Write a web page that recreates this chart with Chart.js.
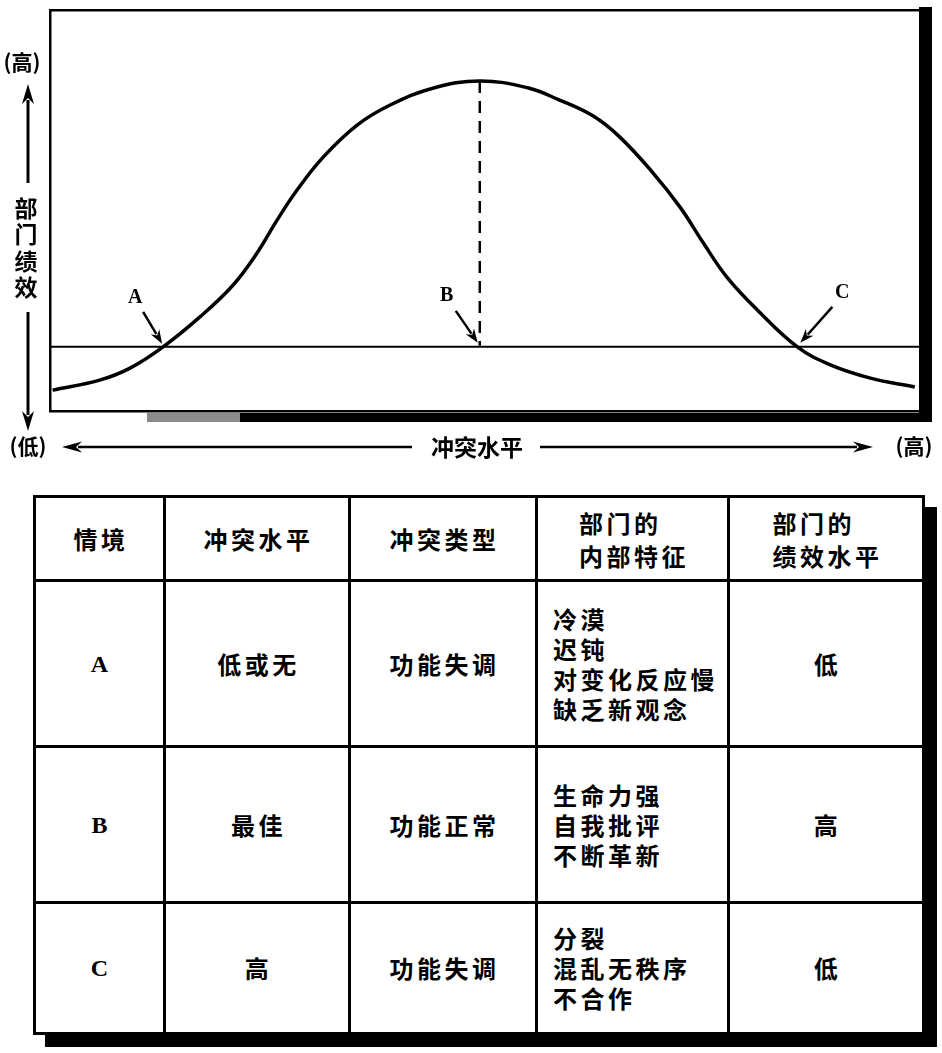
<!DOCTYPE html>
<html lang="zh">
<head>
<meta charset="utf-8">
<script src="https://cdn.jsdelivr.net/npm/chart.js@4.4.1/dist/chart.umd.min.js"></script>
<style>
  html, body { margin: 0; padding: 0; background: #fff; }
  body { width: 942px; height: 1053px; position: relative; overflow: hidden;
         font-family: "Noto Sans CJK SC", "Noto Sans", sans-serif; color: #000; }
  #wrap { position: absolute; left: 0; top: 0; width: 942px; height: 475px; }
  table { position: absolute; left: 33px; top: 495px; border-collapse: collapse;
          table-layout: fixed; width: 889px; box-shadow: 12px 12px 0 #000; background: #fff; }
  td { border: 3px solid #000; text-align: center; vertical-align: middle; padding: 0 0 0 3px;
       font-size: 24px; font-weight: 700; letter-spacing: 3.5px; line-height: 30px; }
  td.abc { font-family: "Liberation Serif", "DejaVu Serif", serif; font-size: 24px; letter-spacing: 0; padding: 0; }
  td.feat { text-align: left; padding-left: 15px; }
  .blk { display: inline-block; text-align: left; line-height: 33px; }
</style>
</head>
<body>
<div id="wrap"><canvas id="c" width="942" height="475"></canvas></div>
<table id="tbl">
  <colgroup>
    <col style="width:130px"><col style="width:185px"><col style="width:187px"><col style="width:192px"><col style="width:195px">
  </colgroup>
  <tbody id="tb"></tbody>
</table>
<script>
// ---- chart data ----
const perfX = [0.3, 5.7, 9.2, 13.0, 17.2, 21.0, 23.8, 26.1, 28.4, 31.4, 35.3, 39.1, 44.0, 49.4, 54.9, 58.5, 62.4, 65.5, 69.3, 72.4, 75.1, 77.8, 81.3, 85.9, 89.7, 94.3, 99.4];
const perfY = [5.2, 7.7, 10.7, 16.0, 23.4, 31.3, 39.4, 47.6, 55.1, 63.3, 71.3, 76.3, 80.5, 82.3, 80.6, 77.6, 73.6, 68.3, 59.4, 50.9, 41.9, 33.4, 25.2, 16.0, 11.5, 8.2, 6.0];
const thresholdX = [0, 100];
const thresholdY = [16.0, 16.0];
const optimumX = [49.4, 49.4];
const optimumY = [82.3, 16.3];
const pointLabels = ['A', 'B', 'C'];
const pointX = [13.0, 49.4, 85.9];
const pointY = [16.0, 16.0, 16.0];
const yAxisHigh = '(高)';
const yAxisLow = '(低)';
const yAxisTitle = ['部', '门', '绩', '效'];
const xAxisTitle = '冲突水平';
const xAxisLow = '(低)';
const xAxisHigh = '(高)';

// ---- table data ----
const tableHeaders = [['情境'], ['冲突水平'], ['冲突类型'], ['部门的', '内部特征'], ['部门的', '绩效水平']];
const situations = ['A', 'B', 'C'];
const conflictLevels = ['低或无', '最佳', '高'];
const conflictTypes = ['功能失调', '功能正常', '功能失调'];
const features = [['冷漠', '迟钝', '对变化反应慢', '缺乏新观念'], ['生命力强', '自我批评', '不断革新'], ['分裂', '混乱无秩序', '不合作']];
const performance = ['低', '高', '低'];

// build table
const rowHeights = [84, 166, 156, 131];
const tb = document.getElementById('tb');
let tr = document.createElement('tr');
tr.style.height = rowHeights[0] + 'px';
tableHeaders.forEach((h, i) => {
  const td = document.createElement('td');
  if (h.length > 1) {
    const s = document.createElement('span'); s.className = 'blk';
    s.innerHTML = h.join('<br>'); td.appendChild(s);
  } else td.textContent = h[0];
  tr.appendChild(td);
});
tb.appendChild(tr);
situations.forEach((s, r) => {
  const row = document.createElement('tr');
  row.style.height = rowHeights[r + 1] + 'px';
  const cells = [s, conflictLevels[r], conflictTypes[r], features[r].join('<br>'), performance[r]];
  cells.forEach((c, i) => {
    const td = document.createElement('td');
    if (i === 0) td.className = 'abc';
    if (i === 3) td.className = 'feat';
    td.innerHTML = c;
    row.appendChild(td);
  });
  tb.appendChild(row);
});

// ---- helpers ----
function arrowLine(ctx, x1, y1, x2, y2, lw, headLen, headW) {
  const a = Math.atan2(y2 - y1, x2 - x1);
  ctx.save();
  ctx.strokeStyle = '#000'; ctx.fillStyle = '#000'; ctx.lineWidth = lw;
  ctx.beginPath();
  ctx.moveTo(x1, y1);
  ctx.lineTo(x2 - Math.cos(a) * headLen * 0.8, y2 - Math.sin(a) * headLen * 0.8);
  ctx.stroke();
  ctx.beginPath();
  ctx.moveTo(x2, y2);
  ctx.lineTo(x2 - Math.cos(a) * headLen + Math.sin(a) * headW / 2, y2 - Math.sin(a) * headLen - Math.cos(a) * headW / 2);
  ctx.lineTo(x2 - Math.cos(a) * headLen * 0.7, y2 - Math.sin(a) * headLen * 0.7);
  ctx.lineTo(x2 - Math.cos(a) * headLen - Math.sin(a) * headW / 2, y2 - Math.sin(a) * headLen + Math.cos(a) * headW / 2);
  ctx.closePath();
  ctx.fill();
  ctx.restore();
}

const framePlugin = {
  id: 'frame',
  beforeDatasetsDraw(chart) {
    const { ctx, chartArea: ca } = chart;
    ctx.save();
    ctx.fillStyle = '#000';
    ctx.fillRect(ca.left - 1, ca.top - 1, ca.right - ca.left + 2, 2.5);
    ctx.fillRect(ca.left - 1, ca.top - 1, 2.5, ca.bottom - ca.top + 2);
    ctx.fillRect(ca.left - 1, ca.bottom - 1, ca.right - ca.left + 2, 2.5);
    ctx.fillRect(ca.right - 1, ca.top - 3, 13, ca.bottom - ca.top + 13);
    ctx.fillRect(ca.left + 190, ca.bottom + 2, ca.right - ca.left - 178, 9);
    ctx.fillStyle = '#8a8a8a';
    ctx.fillRect(ca.left + 97, ca.bottom + 2, 93, 9);
    ctx.restore();
  },
  afterDraw(chart) {
    const { ctx, scales } = chart;
    const xs = scales.x, ys = scales.y;
    ctx.save();
    ctx.fillStyle = '#000';
    ctx.textAlign = 'center';
    ctx.textBaseline = 'middle';
    const offs = [[-28, -49, -20, -35, -1, -3], [-33, -51, -24, -36, -2, -4], [45, -54, 35, -40, 3, -4]];
    ctx.font = 'bold 20px "Liberation Serif", "DejaVu Serif", serif';
    pointLabels.forEach((lab, i) => {
      const px = xs.getPixelForValue(pointX[i]);
      const py = ys.getPixelForValue(pointY[i]);
      const o = offs[i];
      ctx.fillText(lab, px + o[0], py + o[1]);
      arrowLine(ctx, px + o[2], py + o[3], px + o[4], py + o[5], 2.5, 14, 10);
    });
    ctx.font = 'bold 21px "Noto Sans CJK SC", sans-serif';
    ctx.fillText(yAxisHigh, 22, 62);
    ctx.fillText(yAxisLow, 28, 446);
    arrowLine(ctx, 28, 183, 28, 84, 3, 20, 12);
    arrowLine(ctx, 28, 312, 28, 431, 3, 20, 12);
    ctx.font = 'bold 23px "Noto Sans CJK SC", sans-serif';
    yAxisTitle.forEach((ch, i) => ctx.fillText(ch, 26, 208 + i * 26.5));
    ctx.font = 'bold 23px "Noto Sans CJK SC", sans-serif';
    ctx.fillText(xAxisTitle, 477, 447);
    arrowLine(ctx, 412, 447, 62, 447, 2.5, 20, 11);
    arrowLine(ctx, 540, 447, 873, 447, 2.5, 20, 11);
    ctx.font = 'bold 21px "Noto Sans CJK SC", sans-serif';
    ctx.fillText(xAxisHigh, 914, 446);
    ctx.restore();
  }
};

const zip = (xa, ya) => xa.map((x, i) => ({ x, y: ya[i] }));

new Chart(document.getElementById('c'), {
  type: 'line',
  data: {
    datasets: [
      { data: zip(thresholdX, thresholdY), borderColor: '#000', borderWidth: 2, pointRadius: 0, tension: 0 },
      { data: zip(optimumX, optimumY), borderColor: '#000', borderWidth: 2.5, borderDash: [12, 8], pointRadius: 0, tension: 0 },
      { data: zip(perfX, perfY), borderColor: '#000', borderWidth: 3.5, pointRadius: 0, tension: 0.4 }
    ]
  },
  options: {
    responsive: false,
    animation: false,
    devicePixelRatio: 1,
    layout: { padding: { left: 50, top: 10, right: 22, bottom: 64 } },
    plugins: { legend: { display: false }, tooltip: { enabled: false } },
    scales: {
      x: { type: 'linear', min: 0, max: 100, display: false },
      y: { type: 'linear', min: 0, max: 100, display: false }
    }
  },
  plugins: [framePlugin]
});
</script>
</body>
</html>
